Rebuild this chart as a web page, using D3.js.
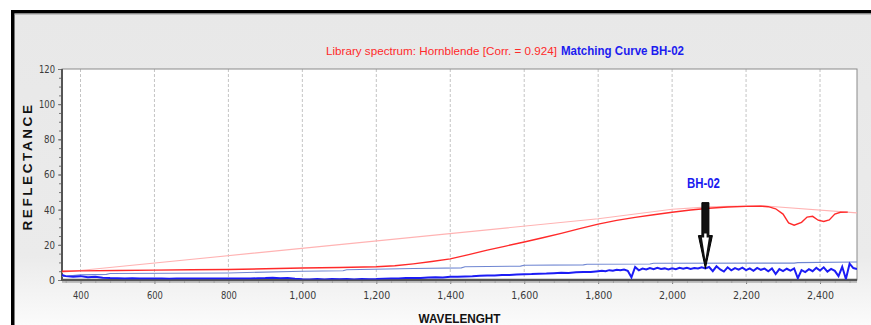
<!DOCTYPE html>
<html><head><meta charset="utf-8">
<script src="https://cdn.jsdelivr.net/npm/d3@7"></script>
<style>
html,body{margin:0;padding:0;background:#fff;}
svg{display:block;}
</style></head>
<body>
<script>
// ---- data ----
const xTicks = [400, 600, 800, 1000, 1200, 1400, 1600, 1800, 2000, 2200, 2400];
const yTicks = [0, 20, 40, 60, 80, 100, 120];

// library spectrum (Hornblende)
const libWl  = [350,400,500,600,700,800,900,1000,1100,1200,1250,1300,1350,1400,1450,1500,1550,1600,1650,1700,1750,1800,1850,1900,1950,2000,2050,2100,2150,2200,2240,2260,2280,2300,2315,2330,2350,2365,2380,2395,2410,2425,2440,2455,2475];
const libVal = [5.0,5.2,5.4,5.6,5.8,6.0,6.4,6.8,7.1,7.5,8.1,9.2,10.5,12.0,14.4,17.0,19.3,21.6,24.0,26.5,29.2,31.8,33.9,35.6,37.1,38.5,39.8,40.8,41.5,41.9,42.0,41.7,40.5,37.5,32.5,31.2,32.8,35.8,36.2,34.0,33.3,34.2,37.5,38.5,38.6];

// library continuum (hull)
const libHullWl  = [350,1800,2000,2100,2240,2500];
const libHullVal = [4.4,34.8,40.2,41.6,42.3,38.2];

// sample BH-02 continuum (hull)
const bhHullWl  = [350,400,470,480,800,1000,1110,1120,1300,1430,1440,1590,1600,1760,1770,1940,1950,2330,2340,2500];
const bhHullVal = [2.0,2.9,3.2,3.7,4.0,5.0,5.3,5.8,6.5,6.9,7.5,7.9,8.4,8.6,9.0,9.1,9.5,9.6,9.9,10.2];

// sample BH-02 spectrum
const bhWl = [350,360,380,400,420,440,460,480,500,520,540,560,580,600,620,640,660,680,700,720,740,760,780,800,820,840,860,880,900,920,940,960,980,1000,1020,1040,1060,1080,1100,1120,1140,1160,1180,1200,1220,1240,1260,1280,1300,1320,1340,1360,1380,1400,1420,1440,1460,1480,1500,1520,1540,1560,1580,1600,1620,1640,1660,1680,1700,1720,1740,1760,1780,1800,
1810,1820,1830,1840,1850,1860,1870,1880,1890,1900,1910,1920,1930,1940,1950,1960,1970,1980,1990,2000,2010,2020,2030,2040,2050,2060,2070,2080,2090,2100,2110,2120,2130,2140,2150,2160,2170,2180,2190,2200,2210,2220,2230,2240,2250,2260,2270,2280,2290,2300,2310,2320,2330,2340,2350,2360,2370,2380,2390,2400,2410,2420,2430,2440,2450,2460,2470,2480,2490,2500];
const bhVal = [2.8,2.2,1.8,2.2,1.6,1.9,1.3,1.1,1.0,0.9,1.0,0.8,0.9,0.8,0.9,0.7,0.8,0.9,0.8,0.9,0.8,0.9,0.8,0.9,0.8,0.9,0.8,1.0,1.1,1.3,1.0,1.2,0.7,0.4,0.3,0.5,0.3,0.6,0.4,0.5,0.3,0.6,0.4,0.5,0.7,0.8,0.9,1.1,1.2,1.1,1.4,1.5,1.4,1.8,1.9,2.0,2.1,2.4,2.5,2.6,2.8,2.9,3.1,3.3,3.4,3.6,3.7,3.9,4.1,4.0,4.4,4.6,4.5,5.0,
5.2,5.0,5.6,5.3,5.8,5.5,6.0,5.2,1.5,7.4,5.5,6.5,6.0,6.8,6.2,6.9,6.3,6.6,6.0,6.7,6.2,6.9,6.4,7.0,6.3,6.8,6.5,7.2,6.6,7.4,5.0,7.8,6.0,4.8,7.2,5.5,6.8,5.9,7.0,5.6,6.6,5.2,6.9,5.8,6.5,5.0,6.6,3.4,6.2,5.1,6.4,5.3,6.6,1.0,5.6,4.5,6.2,5.0,6.9,5.4,7.2,4.8,6.3,5.2,2.2,7.5,0.6,9.3,6.8,6.3];

// annotation
const annotLabel = "BH-02";
const annotWl = 2090, annotTipVal = 6.5, annotTailVal = 44, annotTextVal = 52.5;

// ---- layout ----
const W = 871, H = 325;
const plot = {l: 62, r: 857, t: 69, b: 280};

const svg = d3.select("body").append("svg").attr("width", W).attr("height", H);
const defs = svg.append("defs");
const g1 = defs.append("linearGradient").attr("id","panelGrad").attr("x1",0).attr("y1",0).attr("x2",0).attr("y2",1);
g1.append("stop").attr("offset","0").attr("stop-color","#e8e8e8");
g1.append("stop").attr("offset","0.78").attr("stop-color","#ebebeb");
g1.append("stop").attr("offset","1").attr("stop-color","#fbfbfb");

// outer panel
svg.append("rect").attr("x", 12).attr("y", 11).attr("width", W - 12).attr("height", H - 11).attr("fill", "url(#panelGrad)");
svg.append("rect").attr("x", 11).attr("y", 10).attr("width", W - 11).attr("height", 3.5).attr("fill", "#000");
svg.append("rect").attr("x", 11).attr("y", 10).attr("width", 3.5).attr("height", H - 10).attr("fill", "#000");
svg.append("rect").attr("x", 14.5).attr("y", 13.5).attr("width", W - 14.5).attr("height", 1).attr("fill", "#9a9a9a");

const x = d3.scaleLinear().domain([350, 2500]).range([plot.l, plot.r]);
const y = d3.scaleLinear().domain([0, 120]).range([plot.b, plot.t]);

// plot bg
svg.append("rect").attr("x", plot.l).attr("y", plot.t).attr("width", plot.r - plot.l).attr("height", plot.b - plot.t).attr("fill", "#fff");

// grid
svg.append("g").selectAll("line").data(xTicks).join("line")
  .attr("x1", d => x(d)).attr("x2", d => x(d)).attr("y1", plot.t).attr("y2", plot.b)
  .attr("stroke", "#c4c4c4").attr("stroke-width", 1).attr("stroke-dasharray", "3,2");

// axes
const xMinor = d3.range(360, 2500, 40);
const yMinor = d3.range(0, 121, 5);
const xAxis = svg.append("g").attr("transform", `translate(0,${plot.b})`);
xAxis.call(d3.axisBottom(x).tickValues(xMinor).tickSize(3).tickFormat(""));
xAxis.call(g => g.selectAll(".tick line").attr("stroke", "#777"));
const xAxisMaj = svg.append("g").attr("transform", `translate(0,${plot.b})`)
  .call(d3.axisBottom(x).tickValues(xTicks).tickSize(4).tickPadding(8).tickFormat(d3.format(",")));
xAxisMaj.selectAll(".tick line").attr("stroke", "#777");
xAxisMaj.selectAll("text").attr("font-family", "'DejaVu Sans', Verdana, sans-serif").attr("font-size", 10.5).attr("fill", "#3a3a3a")
  .attr("textLength", d => d >= 1000 ? 27 : 16).attr("lengthAdjust", "spacingAndGlyphs");
[xAxis, xAxisMaj].forEach(a => a.select(".domain").remove());

const yAxis = svg.append("g").attr("transform", `translate(${plot.l},0)`);
yAxis.call(d3.axisLeft(y).tickValues(yMinor).tickSize(3).tickFormat(""));
yAxis.selectAll(".tick line").attr("stroke", "#777");
const yAxisMaj = svg.append("g").attr("transform", `translate(${plot.l},0)`)
  .call(d3.axisLeft(y).tickValues(yTicks).tickSize(4).tickPadding(3));
yAxisMaj.selectAll(".tick line").attr("stroke", "#777");
yAxisMaj.selectAll("text").attr("font-family", "'DejaVu Sans', Verdana, sans-serif").attr("font-size", 10.5).attr("fill", "#3a3a3a")
  .attr("textLength", d => d >= 100 ? 16 : (d === 0 ? 6 : 11)).attr("lengthAdjust", "spacingAndGlyphs");
[yAxis, yAxisMaj].forEach(a => a.select(".domain").remove());

// frame
svg.append("rect").attr("x", plot.l).attr("y", plot.t).attr("width", plot.r - plot.l).attr("height", plot.b - plot.t)
  .attr("fill", "none").attr("stroke", "#8a8a8a").attr("stroke-width", 1);
svg.append("line").attr("x1", plot.l).attr("x2", plot.l).attr("y1", plot.t).attr("y2", plot.b + 1).attr("stroke", "#555").attr("stroke-width", 2);
svg.append("line").attr("x1", plot.l).attr("x2", plot.r).attr("y1", plot.b).attr("y2", plot.b).attr("stroke", "#555").attr("stroke-width", 2.5);
svg.append("line").attr("x1", plot.l).attr("x2", plot.r).attr("y1", plot.b + 2).attr("y2", plot.b + 2).attr("stroke", "#b0b0b0").attr("stroke-width", 1.5);

// lines
const line = d3.line().x(d => x(d[0])).y(d => y(d[1]));
const zip = (a, b) => a.map((v, i) => [v, b[i]]);
const clip = defs.append("clipPath").attr("id", "pc");
clip.append("rect").attr("x", plot.l).attr("y", plot.t).attr("width", plot.r - plot.l).attr("height", plot.b - plot.t - 0.5);
const lines = svg.append("g").attr("clip-path", "url(#pc)");
lines.append("path").attr("d", line(zip(libHullWl, libHullVal))).attr("fill", "none").attr("stroke", "#ffb3b3").attr("stroke-width", 1.1);
lines.append("path").attr("d", line(zip(bhHullWl, bhHullVal))).attr("fill", "none").attr("stroke", "#6f86d2").attr("stroke-width", 1.1);
lines.append("path").attr("d", line(zip(libWl, libVal))).attr("fill", "none").attr("stroke", "#ff2a2a").attr("stroke-width", 1.4);
lines.append("path").attr("d", line(zip(bhWl, bhVal))).attr("fill", "none").attr("stroke", "#1c1cf5").attr("stroke-width", 2);

// annotation arrow
const ax = x(annotWl), tipY = y(annotTipVal), tailY = y(annotTailVal);
const headY = tailY + (tipY - tailY) * 0.5;
const sw = 3.5, hw = 7;
svg.append("path").attr("d", `M${ax-sw},${tailY} L${ax+sw},${tailY} L${ax+sw},${headY} L${ax+hw},${headY} L${ax},${tipY} L${ax-hw},${headY} L${ax-sw},${headY} Z`)
  .attr("fill", "#111").attr("stroke", "#000").attr("stroke-width", 1);
svg.append("path").attr("d", `M${ax-1.2},${headY-2} L${ax+1.2},${headY-2} L${ax+1.2},${headY+2} L${ax+3.5},${headY+2} L${ax},${tipY-9} L${ax-3.5},${headY+2} L${ax-1.2},${headY+2} Z`)
  .attr("fill", "#fff");
svg.append("text").attr("x", x(annotWl) - 2).attr("y", y(annotTextVal)).attr("text-anchor", "middle")
  .attr("font-family", "'Liberation Sans', Arial, sans-serif").attr("font-weight", "bold").attr("font-size", 14)
  .attr("fill", "#1c1cf0").attr("textLength", 33).attr("lengthAdjust", "spacingAndGlyphs").text(annotLabel);

// title
const title = svg.append("text").attr("x", 326).attr("y", 55).attr("font-family", "'Liberation Sans', Arial, sans-serif");
title.append("tspan").attr("font-size", 11.5).attr("fill", "#ff2a2a").attr("textLength", 231).attr("lengthAdjust", "spacingAndGlyphs")
  .text("Library spectrum: Hornblende [Corr. = 0.924]");
title.append("tspan").attr("x", 561).attr("font-size", 12.5).attr("font-weight", "bold").attr("fill", "#1c1cf0")
  .attr("textLength", 123).attr("lengthAdjust", "spacingAndGlyphs").text("Matching Curve BH-02");

// axis titles
svg.append("text").attr("transform", `translate(32,166.5) rotate(-90)`).attr("text-anchor", "middle")
  .attr("font-family", "'Liberation Sans', Arial, sans-serif").attr("font-weight", "bold").attr("font-size", 13)
  .attr("fill", "#111").attr("textLength", 128).attr("lengthAdjust", "spacingAndGlyphs").attr("letter-spacing", 2.5).text("REFLECTANCE");
svg.append("text").attr("x", (plot.l + plot.r) / 2).attr("y", 323).attr("text-anchor", "middle")
  .attr("font-family", "'Liberation Sans', Arial, sans-serif").attr("font-weight", "bold").attr("font-size", 13)
  .attr("fill", "#111").attr("textLength", 82).attr("lengthAdjust", "spacingAndGlyphs").text("WAVELENGHT");
</script>
</body></html>
